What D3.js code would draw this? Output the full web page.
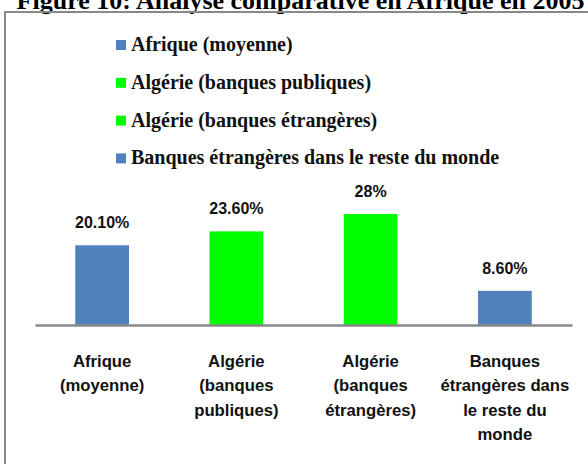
<!DOCTYPE html>
<html>
<head>
<meta charset="utf-8">
<script src="https://cdn.jsdelivr.net/npm/d3@7"></script>
<style>
  body { margin: 0; background: #fff; }
  svg { display: block; }
</style>
</head>
<body>
<div id="chart"></div>
<script>
var title = 'Figure 10: Analyse comparative en Afrique en 2005'
var categories = ['Afrique (moyenne)', 'Algérie (banques publiques)', 'Algérie (banques étrangères)', 'Banques étrangères dans le reste du monde']
var values = [20.1, 23.6, 28, 8.6]
var valueLabels = ['20.10%', '23.60%', '28%', '8.60%']
var axisLines = [
  ['Afrique', '(moyenne)'],
  ['Algérie', '(banques', 'publiques)'],
  ['Algérie', '(banques', 'étrangères)'],
  ['Banques', 'étrangères dans', 'le reste du', 'monde']
]
var barColors = ['#4f81bd', '#00ff00', '#00ff00', '#4f81bd']

var width = 588
var height = 464

var svg = d3.select('#chart')
  .append('svg')
    .attr('width', width)
    .attr('height', height)

// title, cut off by the top of the page like in the scan
svg.append('text')
  .attr('x', 300.5)
  .attr('y', 9)
  .attr('text-anchor', 'middle')
  .style('font-family', '"Liberation Serif", "Times New Roman", serif')
  .style('font-weight', 'bold')
  .style('font-size', '26px')
  .text(title)

// chart frame (runs off the right and bottom edges)
svg.append('rect')
  .attr('x', 5)
  .attr('y', 12)
  .attr('width', 620)
  .attr('height', 500)
  .attr('fill', 'none')
  .attr('stroke', '#888')
  .attr('stroke-width', 2)

// legend
var legend = svg.append('g')
  .attr('transform', 'translate(116, 45)')

var legendItem = legend.selectAll('.legend-item')
  .data(categories)
  .enter()
  .append('g')
    .attr('class', 'legend-item')
    .attr('transform', function(d, i) { return 'translate(0,' + (i * 37.8) + ')' })

legendItem.append('rect')
  .attr('x', 0)
  .attr('y', -5)
  .attr('width', 10)
  .attr('height', 10)
  .attr('fill', function(d, i) { return barColors[i] })

legendItem.append('text')
  .attr('x', 15)
  .attr('y', 6)
  .style('font-family', '"Liberation Serif", "Times New Roman", serif')
  .style('font-weight', 'bold')
  .style('font-size', '20px')
  .style('fill', '#111')
  .text(function(d) { return d })

// scales
var x = d3.scaleBand()
  .domain(categories)
  .range([35, 572])
  .paddingInner(0.6)
  .paddingOuter(0.3)

var y = d3.scaleLinear()
  .domain([0, 30])
  .range([325, 206])

// bars
svg.selectAll('.bar')
  .data(values)
  .enter()
  .append('rect')
    .attr('class', 'bar')
    .attr('x', function(d, i) { return x(categories[i]) })
    .attr('y', function(d) { return y(d) })
    .attr('width', x.bandwidth())
    .attr('height', function(d) { return y(0) - y(d) })
    .attr('fill', function(d, i) { return barColors[i] })

// value labels
svg.selectAll('.value-label')
  .data(values)
  .enter()
  .append('text')
    .attr('class', 'value-label')
    .attr('x', function(d, i) { return x(categories[i]) + x.bandwidth() / 2 })
    .attr('y', function(d) { return y(d) - 17 })
    .attr('text-anchor', 'middle')
    .style('font-family', '"Liberation Sans", Arial, sans-serif')
    .style('font-weight', 'bold')
    .style('font-size', '16px')
    .style('fill', '#111')
    .text(function(d, i) { return valueLabels[i] })

// x axis line
var xAxis = svg.append('g')
  .attr('transform', 'translate(0,' + y(0) + ')')
  .call(d3.axisBottom(x).tickSize(0).tickFormat(''))

xAxis.select('.domain')
  .attr('stroke', '#888')
  .attr('stroke-width', 2.5)

// category labels, wrapped
var catLabel = svg.selectAll('.cat-label')
  .data(axisLines)
  .enter()
  .append('text')
    .attr('class', 'cat-label')
    .attr('text-anchor', 'middle')
    .style('font-family', '"Liberation Sans", Arial, sans-serif')
    .style('font-weight', 'bold')
    .style('font-size', '16.7px')
    .style('fill', '#111')

catLabel.each(function(lines, i) {
  var cx = x(categories[i]) + x.bandwidth() / 2
  d3.select(this).selectAll('tspan')
    .data(lines)
    .enter()
    .append('tspan')
      .attr('x', cx)
      .attr('y', function(d, j) { return 367 + j * 24.3 })
      .text(function(d) { return d })
})
</script>
</body>
</html>
